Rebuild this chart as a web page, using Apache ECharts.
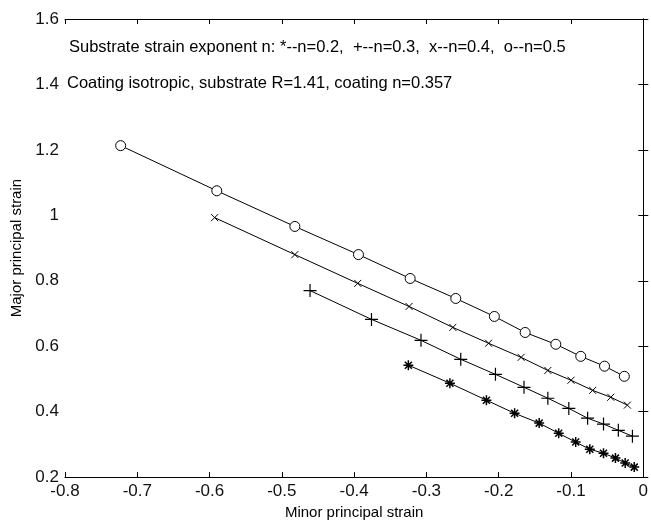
<!DOCTYPE html>
<html>
<head>
<meta charset="utf-8">
<script src="https://cdn.jsdelivr.net/npm/echarts@6/dist/echarts.min.js"></script>
<style>
  html, body { margin: 0; padding: 0; background: #fff; }
  #chart { width: 651px; height: 525px; }
</style>
</head>
<body>
<div id="chart"></div>
<script>
// Minor / major principal strain pairs for each substrate strain exponent n
const minorN02 = [-0.325, -0.2675, -0.217, -0.178, -0.144, -0.117, -0.0935, -0.074, -0.055, -0.0385, -0.025, -0.0125];
const majorN02 = [0.542, 0.487, 0.435, 0.395, 0.365, 0.334, 0.307, 0.285, 0.273, 0.258, 0.243, 0.2305];

const minorN03 = [-0.461, -0.376, -0.3075, -0.2525, -0.2045, -0.165, -0.132, -0.103, -0.077, -0.055, -0.0345, -0.015];
const majorN03 = [0.770, 0.682, 0.618, 0.560, 0.514, 0.4745, 0.441, 0.410, 0.380, 0.362, 0.343, 0.325];

const minorN04 = [-0.593, -0.482, -0.395, -0.324, -0.2635, -0.214, -0.169, -0.132, -0.100, -0.070, -0.045, -0.022];
const majorN04 = [0.993, 0.880, 0.792, 0.7215, 0.6575, 0.609, 0.566, 0.526, 0.496, 0.465, 0.444, 0.420];

const minorN05 = [-0.723, -0.590, -0.482, -0.394, -0.3225, -0.2594, -0.206, -0.1634, -0.121, -0.0865, -0.0536, -0.0262];
const majorN05 = [1.213, 1.075, 0.966, 0.880, 0.807, 0.746, 0.691, 0.642, 0.606, 0.569, 0.539, 0.508];

const xTicks = { min: -0.8, max: 0, step: 0.1 };
const yTicks = { min: 0.2, max: 1.6, step: 0.2 };

const noteLine1 = 'Substrate strain exponent n: *--n=0.2,  +--n=0.3,  x--n=0.4,  o--n=0.5';
const noteLine2 = 'Coating isotropic, substrate R=1.41, coating n=0.357';

const FONT = '"Liberation Sans", Arial, sans-serif';

const pairs = (xs, ys) => xs.map((x, i) => [x, ys[i]]);

const SYM_PLUS = 'path://M5,0L5,10M0,5L10,5';
const SYM_CROSS = 'path://M0,0L10,10M10,0L0,10';
const SYM_STAR = 'path://M5,0L5,10M0,5L10,5M1.5,1.5L8.5,8.5M8.5,1.5L1.5,8.5';

function curve(name, data, symbol, size, bw) {
  return {
    name, type: 'line', data,
    symbol, symbolSize: size, showAllSymbol: true,
    lineStyle: { color: '#000', width: 1 },
    itemStyle: { color: symbol === 'circle' ? '#fff' : '#000', borderColor: '#000', borderWidth: bw },
    emphasis: { disabled: true },
    animation: false,
    z: 3
  };
}

const axisLine = { lineStyle: { color: '#000', width: 1 } };
const tickIn = { inside: true, length: 5, lineStyle: { color: '#000' } };

const chart = echarts.init(document.getElementById('chart'), null, { renderer: 'canvas' });
chart.setOption({
  backgroundColor: '#fff',
  animation: false,
  grid: { left: 65, right: 3, top: 19, bottom: 47, containLabel: false },
  xAxis: [
    {
      type: 'value', min: xTicks.min, max: xTicks.max, interval: xTicks.step,
      position: 'bottom',
      name: 'Minor principal strain', nameLocation: 'middle', nameGap: 26,
      nameTextStyle: { fontFamily: FONT, fontSize: 15, color: '#000' },
      axisLine, axisTick: tickIn, splitLine: { show: false },
      axisLabel: { fontFamily: FONT, fontSize: 17, color: '#111', margin: 6 }
    },
    {
      type: 'value', min: xTicks.min, max: xTicks.max, interval: xTicks.step,
      position: 'top',
      axisLine, axisTick: tickIn, splitLine: { show: false },
      axisLabel: { show: false }
    }
  ],
  yAxis: [
    {
      type: 'value', min: yTicks.min, max: yTicks.max, interval: yTicks.step,
      position: 'left',
      name: 'Major principal strain', nameLocation: 'middle', nameGap: 40,
      nameTextStyle: { fontFamily: FONT, fontSize: 15, color: '#000' },
      axisLine, axisTick: tickIn, splitLine: { show: false },
      axisLabel: { fontFamily: FONT, fontSize: 17, color: '#111', margin: 6 }
    },
    {
      type: 'value', min: yTicks.min, max: yTicks.max, interval: yTicks.step,
      position: 'right',
      axisLine, axisTick: tickIn, splitLine: { show: false },
      axisLabel: { show: false }
    }
  ],
  graphic: [
    { type: 'text', left: 69, top: 39, style: { text: noteLine1, font: '16.5px ' + FONT, fill: '#000' } },
    { type: 'text', left: 67, top: 75, style: { text: noteLine2, font: '16.5px ' + FONT, fill: '#000' } }
  ],
  series: [
    curve('n=0.2', pairs(minorN02, majorN02), SYM_STAR, 10, 1.5),
    curve('n=0.3', pairs(minorN03, majorN03), SYM_PLUS, 13, 1.2),
    curve('n=0.4', pairs(minorN04, majorN04), SYM_CROSS, 7, 1),
    curve('n=0.5', pairs(minorN05, majorN05), 'circle', 10, 1)
  ]
});
</script>
</body>
</html>
